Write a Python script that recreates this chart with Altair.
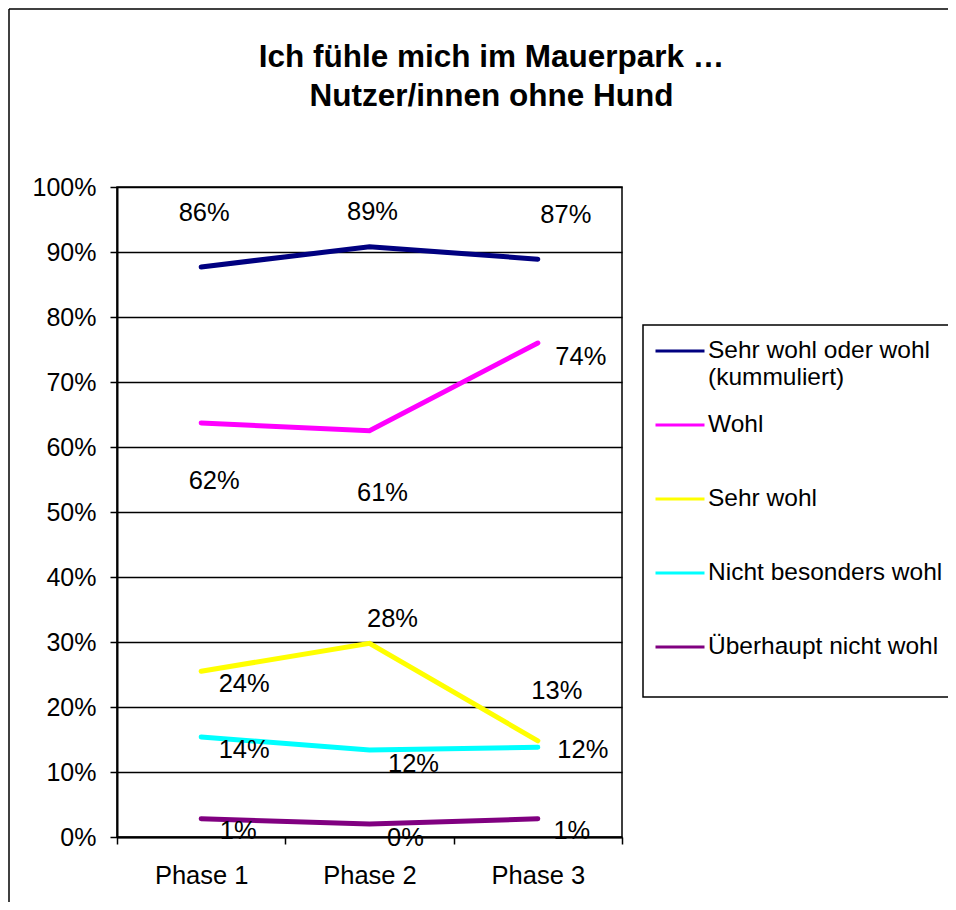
import altair as alt
import pandas as pd

# ---- data -------------------------------------------------------------
phases = ["Phase 1", "Phase 2", "Phase 3"]
series = [
    "Sehr wohl oder wohl (kummuliert)",
    "Wohl",
    "Sehr wohl",
    "Nicht besonders wohl",
    "Überhaupt nicht wohl",
]
colors = ["#000080", "#FF00FF", "#FFFF00", "#00FFFF", "#800080"]

# plotted line values (as drawn)
cum_vals = [0.877, 0.908, 0.889]
wohl_vals = [0.637, 0.625, 0.760]
sehr_vals = [0.255, 0.298, 0.148]
nicht_vals = [0.154, 0.134, 0.138]
ueber_vals = [0.028, 0.020, 0.028]

# data label texts
cum_lbl = ["86%", "89%", "87%"]
wohl_lbl = ["62%", "61%", "74%"]
sehr_lbl = ["24%", "28%", "13%"]
nicht_lbl = ["14%", "12%", "12%"]
ueber_lbl = ["1%", "0%", "1%"]

# data label placement (value position, horizontal shift in px)
cum_ly = [0.960, 0.9615, 0.957]
wohl_ly = [0.548, 0.529, 0.738]
sehr_ly = [0.235, 0.335, 0.225]
nicht_ly = [0.134, 0.112, 0.134]
ueber_ly = [0.009, -0.002, 0.009]

cum_dx = [3, 3, 28]
wohl_dx = [13, 13, 43]
sehr_dx = [43, 23, 19]
nicht_dx = [43, 44, 45]
ueber_dx = [37, 36, 34]

y_ticks = [0, 0.1, 0.2, 0.3, 0.4, 0.5, 0.6, 0.7, 0.8, 0.9, 1.0]

# ---- build tables -----------------------------------------------------
W, H = 505, 650
band = W / len(phases)

all_vals = [cum_vals, wohl_vals, sehr_vals, nicht_vals, ueber_vals]
all_lbl = [cum_lbl, wohl_lbl, sehr_lbl, nicht_lbl, ueber_lbl]
all_ly = [cum_ly, wohl_ly, sehr_ly, nicht_ly, ueber_ly]
all_dx = [cum_dx, wohl_dx, sehr_dx, nicht_dx, ueber_dx]

rows = []
lrows = []
for s, vals, lbls, lys, dxs in zip(series, all_vals, all_lbl, all_ly, all_dx):
    for i, p in enumerate(phases):
        rows.append({"series": s, "phase": p, "value": vals[i]})
        lrows.append({"series": s, "label": lbls[i], "value": lys[i],
                      "lx": i + 0.5 + dxs[i] / band})
df = pd.DataFrame(rows)
ldf = pd.DataFrame(lrows)

FONT = "Liberation Sans"
FS = 25.5

x_enc = alt.X(
    "phase:N",
    sort=phases,
    bandPosition=0.5,
    scale=alt.Scale(type="band", paddingInner=0, paddingOuter=0),
    axis=alt.Axis(
        title=None, tickBand="extent", labelAngle=0, labelFont=FONT,
        labelFontSize=FS, labelColor="black", tickColor="black", tickSize=7,
        tickWidth=1.5, domainColor="black", domainWidth=2, labelPadding=19,
        grid=False,
    ),
)
y_enc = alt.Y(
    "value:Q",
    scale=alt.Scale(domain=[0, 1]),
    axis=alt.Axis(
        title=None, values=y_ticks, format="%", labelFont=FONT,
        labelFontSize=25, labelColor="black", tickColor="black", tickSize=7,
        tickWidth=1.5, domainColor="black", domainWidth=2, labelPadding=14,
        grid=True, gridColor="black", gridWidth=1.3,
    ),
)

legend_expr = (
    "datum.label == 'Sehr wohl oder wohl (kummuliert)' ? "
    "['Sehr wohl oder wohl', '(kummuliert)'] : [datum.label, '']"
)

lines = alt.Chart(df).mark_line(strokeWidth=5, strokeCap="round").encode(
    x=x_enc,
    y=y_enc,
    color=alt.Color(
        "series:N",
        sort=series,
        scale=alt.Scale(domain=series, range=colors),
        legend=alt.Legend(
            orient="none", legendX=537, legendY=138, title=None,
            symbolType="stroke", symbolSize=2401, symbolStrokeWidth=3,
            labelFont=FONT, labelFontSize=24.5, labelColor="black",
            labelOffset=2, labelLimit=600, rowPadding=10, padding=0,
            labelExpr=legend_expr,
        ),
    ),
)

labels = alt.Chart(ldf).mark_text(
    font=FONT, fontSize=FS, color="black", align="center", baseline="middle"
).encode(
    x=alt.X("lx:Q", scale=alt.Scale(domain=[0, 3]), axis=None),
    y=y_enc,
    text="label:N",
)

one = pd.DataFrame({"a": [0]})
frame_left = alt.Chart(one).mark_rule(color="black", strokeWidth=1.5).encode(
    x=alt.value(-108), y=alt.value(-178), y2=alt.value(H + 80)
)
frame_top = alt.Chart(one).mark_rule(color="black", strokeWidth=1.5).encode(
    x=alt.value(-108), x2=alt.value(W + 340), y=alt.value(-178)
)
legend_box = alt.Chart(one).mark_rect(
    filled=False, stroke="black", strokeWidth=1.5
).encode(
    x=alt.value(526), x2=alt.value(W + 360), y=alt.value(138), y2=alt.value(510)
)

chart = (
    alt.layer(lines, labels, frame_left, frame_top, legend_box)
    .resolve_scale(x="independent", y="shared")
    .properties(
        width=W,
        height=H,
        autosize=alt.AutoSizeParams(type="none"),
        padding={"left": 109, "top": 179, "right": 326, "bottom": 65},
        title=alt.TitleParams(
            text=["Ich fühle mich im Mauerpark …", "Nutzer/innen ohne Hund"],
            font=FONT, fontSize=31.5, fontWeight="bold", color="black",
            anchor="middle", frame="group", dx=122, offset=-104, lineHeight=39,
        ),
        background="white",
    )
    .configure_view(stroke="black", strokeWidth=1.5)
)

chart.save("out.html", embed_options={"renderer": "svg", "actions": False})
